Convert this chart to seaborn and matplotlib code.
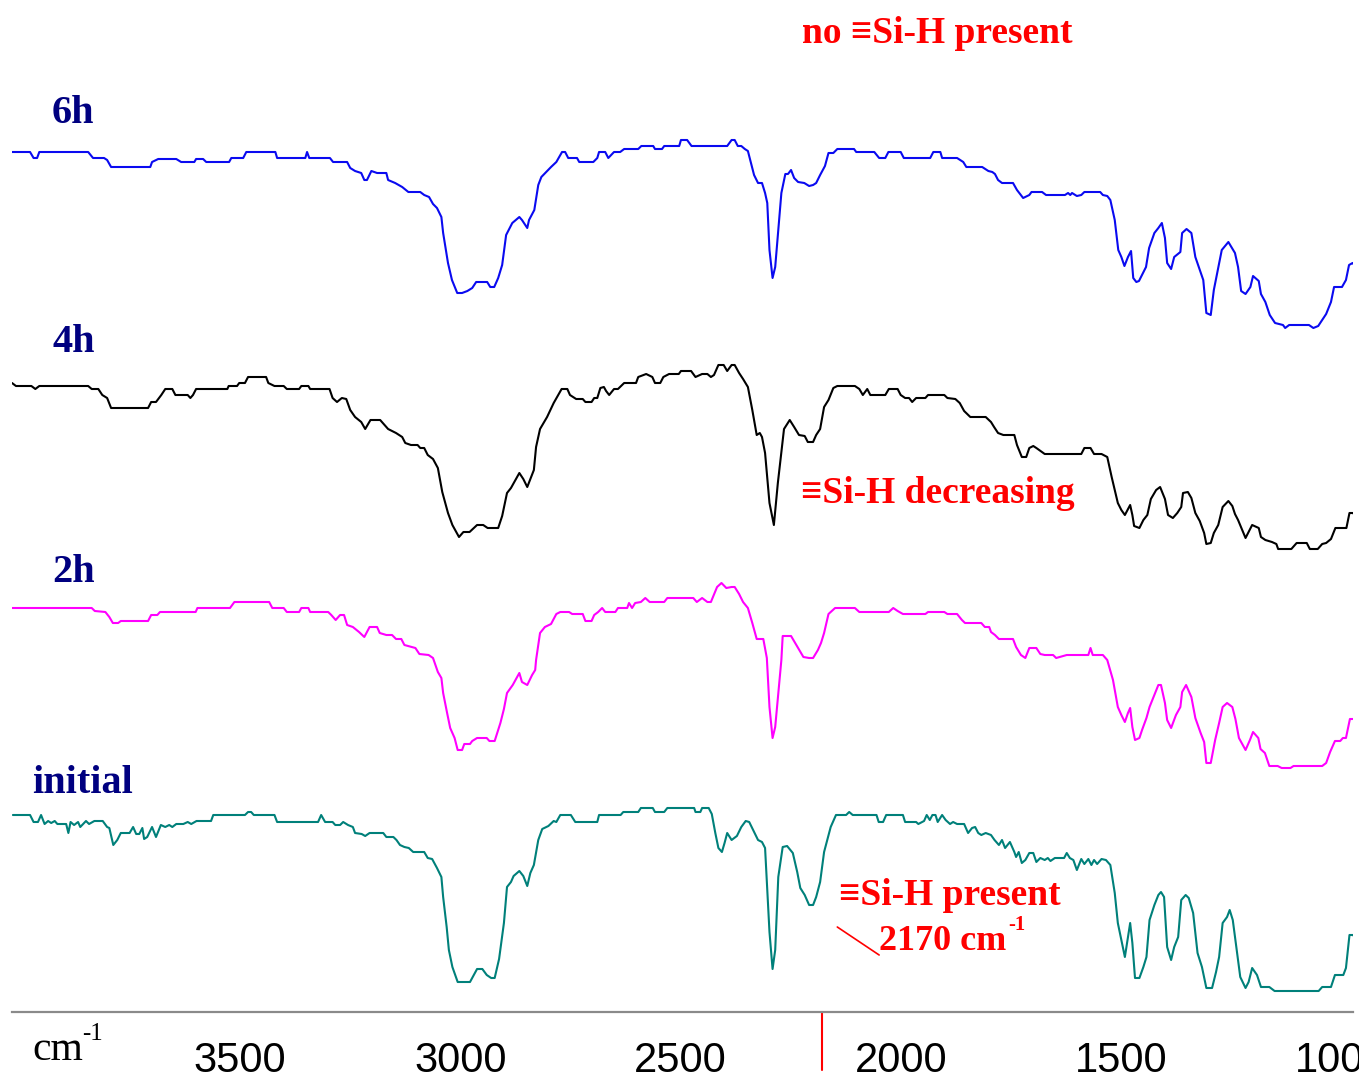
import numpy as np
import pandas as pd
import seaborn as sns
import matplotlib.pyplot as plt
from matplotlib.transforms import ScaledTranslation

# IR spectra (wavenumber in cm-1, relative transmittance in a.u.)
wn_6h = [3975, 3934, 3926, 3918, 3913, 3802, 3791, 3766, 3759, 3750, 3661, 3657, 3643, 3602, 3591,
         3561, 3557, 3541, 3534, 3482, 3477, 3450, 3443, 3377, 3373, 3309, 3305, 3300, 3253, 3246,
         3214, 3207, 3196, 3182, 3175, 3169, 3159, 3146, 3125, 3121, 3105, 3089, 3075, 3048, 3039,
         3028, 3019, 3010, 3000, 2996, 2985, 2976, 2964, 2953, 2941, 2930, 2921, 2896, 2889, 2880,
         2871, 2862, 2853, 2839, 2823, 2817, 2805, 2801, 2789, 2780, 2773, 2762, 2751, 2739, 2726,
         2719, 2712, 2692, 2687, 2655, 2646, 2642, 2628, 2621, 2608, 2594, 2585, 2553, 2546, 2519,
         2515, 2499, 2494, 2460, 2456, 2442, 2432, 2351, 2341, 2334, 2327, 2319, 2311, 2304, 2297,
         2290, 2281, 2272, 2265, 2260, 2255, 2248, 2242, 2235, 2228, 2219, 2213, 2206, 2199, 2190,
         2176, 2165, 2156, 2149, 2140, 2129, 2121, 2110, 2101, 2063, 2058, 2017, 2006, 1992, 1985,
         1957, 1950, 1890, 1883, 1867, 1863, 1829, 1815, 1808, 1772, 1758, 1749, 1743, 1736, 1727,
         1702, 1693, 1679, 1665, 1660, 1636, 1627, 1584, 1577, 1572, 1568, 1557, 1547, 1540, 1504,
         1498, 1488, 1481, 1471, 1463, 1456, 1449, 1441, 1434, 1429, 1422, 1416, 1400, 1393, 1381,
         1372, 1364, 1357, 1352, 1343, 1336, 1322, 1318, 1308, 1297, 1288, 1270, 1263, 1253, 1246,
         1236, 1228, 1213, 1198, 1191, 1184, 1174, 1163, 1157, 1144, 1139, 1129, 1119, 1107, 1089,
         1084, 1075, 1030, 1020, 1009, 1000, 991, 980, 973, 955, 946, 939, 931, 923]
t_6h = [0, 0, -6, -6, 0, 0, -6, -6, -8, -15, -15, -10, -7, -7, -10,
        -10, -7, -7, -10, -10, -6, -6, 0, 0, -6, -6, 0, -6, -6, -10,
        -10, -16, -19, -21, -28, -28, -19, -21, -21, -28, -31, -35, -40, -40, -43,
        -45, -52, -56, -65, -81, -111, -128, -141, -141, -139, -136, -130, -130, -135, -135,
        -126, -113, -83, -71, -65, -68, -76, -68, -58, -33, -25, -20, -15, -10, 0,
        0, -6, -6, -10, -10, -6, 0, 0, -6, 0, 0, 3, 3, 6, 6,
        3, 3, 6, 6, 12, 12, 6, 6, 12, 12, 6, 6, 3, 1, -11,
        -23, -31, -31, -41, -51, -98, -126, -115, -78, -41, -22, -22, -18, -26, -30,
        -31, -34, -33, -31, -23, -14, -1, -1, 3, 3, 0, 0, -6, -6, 0,
        0, -6, -6, 0, 0, -6, -6, -10, -15, -15, -19, -20, -22, -28, -31,
        -31, -38, -46, -43, -40, -40, -43, -43, -41, -43, -41, -44, -43, -40, -40,
        -43, -44, -48, -68, -98, -105, -114, -105, -99, -126, -130, -129, -115, -96, -81,
        -76, -71, -86, -111, -117, -105, -100, -81, -77, -81, -105, -128, -161, -163, -138,
        -116, -98, -90, -101, -115, -139, -142, -135, -124, -129, -142, -150, -163, -171, -173,
        -176, -173, -173, -176, -174, -168, -162, -150, -135, -135, -128, -113, -111, -115]

wn_4h = [3975, 3966, 3931, 3922, 3913, 3802, 3794, 3779, 3770, 3759, 3750, 3666, 3659, 3648, 3636,
         3627, 3611, 3604, 3576, 3570, 3564, 3557, 3486, 3483, 3464, 3459, 3446, 3439, 3398, 3393,
         3379, 3358, 3351, 3323, 3318, 3302, 3298, 3254, 3247, 3237, 3226, 3216, 3207, 3196, 3182,
         3173, 3161, 3139, 3121, 3103, 3089, 3082, 3069, 3054, 3048, 3039, 3031, 3019, 3008, 2998,
         2985, 2975, 2960, 2950, 2936, 2919, 2905, 2895, 2871, 2862, 2851, 2842, 2823, 2814, 2805,
         2790, 2785, 2776, 2760, 2745, 2727, 2714, 2708, 2694, 2679, 2673, 2659, 2653, 2646, 2639,
         2631, 2626, 2619, 2608, 2599, 2585, 2558, 2553, 2535, 2521, 2515, 2503, 2496, 2483, 2461,
         2456, 2433, 2423, 2408, 2396, 2388, 2381, 2371, 2359, 2351, 2341, 2334, 2324, 2315, 2304,
         2294, 2284, 2277, 2272, 2265, 2255, 2245, 2236, 2222, 2209, 2199, 2188, 2175, 2168, 2156,
         2149, 2140, 2131, 2121, 2110, 2101, 2061, 2051, 2043, 2033, 2026, 1992, 1984, 1964, 1957,
         1947, 1938, 1931, 1922, 1901, 1895, 1858, 1851, 1833, 1823, 1813, 1799, 1764, 1752, 1745,
         1736, 1724, 1699, 1693, 1682, 1672, 1665, 1656, 1649, 1630, 1547, 1540, 1526, 1518, 1501,
         1488, 1478, 1464, 1456, 1448, 1436, 1431, 1427, 1415, 1406, 1397, 1389, 1377, 1368, 1357,
         1350, 1339, 1329, 1320, 1316, 1305, 1297, 1288, 1278, 1268, 1263, 1253, 1246, 1236, 1226,
         1213, 1204, 1198, 1191, 1174, 1159, 1144, 1139, 1129, 1114, 1104, 1100, 1070, 1058, 1035,
         1028, 1010, 1000, 991, 980, 970, 945, 938, 931, 923]
t_4h = [3, 0, 0, -3, 0, 0, -3, -3, -9, -12, -22, -22, -16, -16, -9,
        -3, -3, -9, -9, -12, -9, -3, -3, 0, 0, 3, 3, 9, 9, 3,
        0, 0, -3, -3, 0, 0, -3, -3, -12, -16, -12, -13, -24, -31, -36,
        -43, -34, -34, -43, -47, -51, -57, -59, -59, -62, -62, -69, -73, -82, -106,
        -127, -139, -151, -146, -146, -139, -139, -142, -142, -130, -107, -102, -87, -93, -101,
        -84, -61, -43, -31, -17, -3, -3, -9, -13, -13, -16, -16, -12, -12, -2,
        -1, -5, -9, -3, -3, 3, 3, 9, 12, 9, 3, 3, 9, 12, 12,
        15, 15, 9, 12, 12, 9, 11, 21, 21, 15, 21, 21, 13, 7, -1,
        -24, -49, -47, -51, -67, -117, -139, -97, -43, -34, -41, -49, -50, -56, -56,
        -49, -43, -21, -14, -2, 0, 0, -3, -9, -3, -9, -9, -3, -3, -9,
        -12, -12, -16, -12, -12, -9, -9, -12, -13, -17, -25, -31, -31, -36, -41,
        -47, -49, -49, -59, -71, -71, -62, -60, -62, -68, -68, -62, -62, -68, -68,
        -71, -91, -117, -124, -129, -119, -129, -140, -142, -134, -129, -113, -104, -101, -113,
        -129, -132, -127, -121, -107, -106, -112, -127, -135, -147, -158, -157, -147, -139, -121,
        -115, -120, -128, -134, -152, -139, -142, -151, -154, -156, -158, -163, -163, -157, -157,
        -163, -163, -158, -157, -153, -142, -142, -127, -127, -129]

wn_2h = [3975, 3794, 3787, 3763, 3754, 3746, 3734, 3728, 3666, 3659, 3645, 3639, 3558, 3554, 3480,
         3470, 3391, 3384, 3358, 3351, 3323, 3318, 3302, 3298, 3257, 3250, 3240, 3230, 3221, 3214,
         3201, 3187, 3175, 3163, 3146, 3140, 3125, 3112, 3103, 3091, 3084, 3059, 3050, 3029, 3019,
         3008, 3000, 2996, 2987, 2980, 2970, 2963, 2953, 2948, 2935, 2930, 2919, 2897, 2891, 2879,
         2866, 2858, 2851, 2838, 2823, 2817, 2805, 2794, 2787, 2785, 2776, 2765, 2751, 2739, 2730,
         2710, 2703, 2679, 2673, 2659, 2653, 2644, 2635, 2628, 2605, 2599, 2578, 2574, 2567, 2560,
         2547, 2537, 2527, 2494, 2487, 2428, 2420, 2408, 2396, 2388, 2374, 2364, 2353, 2341, 2334,
         2324, 2315, 2304, 2294, 2284, 2269, 2261, 2255, 2248, 2242, 2235, 2228, 2225, 2206, 2190,
         2178, 2165, 2156, 2145, 2138, 2131, 2121, 2106, 2061, 2051, 1984, 1974, 1964, 1952, 1901,
         1895, 1858, 1851, 1829, 1818, 1811, 1774, 1766, 1756, 1752, 1743, 1734, 1702, 1695, 1684,
         1674, 1665, 1649, 1640, 1630, 1611, 1604, 1580, 1531, 1526, 1521, 1498, 1488, 1475, 1464,
         1456, 1448, 1441, 1436, 1431, 1425, 1415, 1409, 1399, 1392, 1381, 1372, 1366, 1357, 1352,
         1343, 1332, 1322, 1318, 1309, 1297, 1288, 1276, 1268, 1263, 1253, 1243, 1234, 1226, 1216,
         1204, 1197, 1189, 1174, 1164, 1157, 1145, 1140, 1130, 1120, 1101, 1092, 1072, 1065, 1000,
         991, 982, 971, 959, 953, 946, 937, 926, 919]
t_2h = [0, 0, -3, -4, -9, -15, -15, -13, -13, -7, -7, -4, -4, 0, 0,
        6, 6, 0, 0, -4, -4, 0, 0, -4, -4, -7, -12, -7, -7, -17,
        -19, -24, -29, -19, -19, -25, -27, -27, -31, -31, -37, -40, -46, -47, -50,
        -64, -70, -85, -105, -120, -130, -142, -142, -136, -136, -133, -130, -130, -133, -133,
        -115, -101, -85, -77, -65, -74, -77, -67, -62, -52, -25, -19, -16, -6, -4,
        -4, -6, -6, -13, -13, -7, -4, 0, -4, -4, 0, 0, 5, 0, 5,
        6, 10, 6, 6, 10, 10, 6, 10, 6, 6, 21, 25, 20, 21, 21,
        14, 6, 0, -15, -31, -31, -50, -99, -130, -119, -85, -52, -28, -28, -40,
        -49, -50, -50, -42, -35, -25, -6, 0, 0, -4, -4, 0, -3, -6, -6,
        -4, -4, -6, -6, -12, -15, -15, -19, -19, -24, -27, -31, -31, -39, -47,
        -50, -40, -40, -46, -47, -47, -50, -47, -47, -40, -47, -47, -52, -72, -99,
        -107, -114, -105, -100, -119, -132, -130, -122, -110, -99, -87, -77, -77, -95, -112,
        -120, -107, -99, -84, -77, -89, -110, -125, -134, -155, -155, -132, -115, -99, -95,
        -99, -111, -130, -142, -132, -124, -130, -141, -145, -158, -158, -160, -160, -158, -158,
        -155, -144, -133, -133, -130, -130, -111, -111, -114]

wn_init = [3973, 3934, 3926, 3916, 3909, 3901, 3893, 3886, 3878, 3872, 3852, 3847, 3842, 3834, 3825,
           3820, 3807, 3800, 3788, 3769, 3759, 3754, 3745, 3736, 3728, 3708, 3700, 3693, 3686, 3679,
           3675, 3668, 3657, 3648, 3637, 3627, 3618, 3611, 3602, 3586, 3576, 3568, 3556, 3523, 3518,
           3446, 3439, 3432, 3426, 3379, 3373, 3280, 3273, 3264, 3247, 3241, 3230, 3223, 3212, 3201,
           3196, 3181, 3173, 3163, 3132, 3125, 3109, 3102, 3094, 3084, 3074, 3064, 3039, 3031, 3021,
           3010, 3000, 2996, 2988, 2983, 2975, 2963, 2935, 2930, 2919, 2907, 2897, 2887, 2879, 2869,
           2858, 2851, 2842, 2836, 2823, 2814, 2805, 2798, 2790, 2780, 2771, 2757, 2745, 2739, 2730,
           2706, 2696, 2646, 2642, 2593, 2587, 2553, 2547, 2520, 2515, 2494, 2487, 2426, 2423, 2412,
           2408, 2393, 2386, 2378, 2371, 2363, 2357, 2351, 2341, 2329, 2319, 2309, 2301, 2292, 2281,
           2272, 2265, 2255, 2248, 2242, 2235, 2225, 2215, 2202, 2192, 2185, 2175, 2165, 2156, 2149,
           2140, 2131, 2116, 2104, 2081, 2074, 2066, 2012, 2007, 1997, 1990, 1952, 1947, 1922, 1917,
           1904, 1898, 1891, 1885, 1878, 1873, 1863, 1855, 1845, 1838, 1829, 1813, 1804, 1795, 1788,
           1781, 1774, 1764, 1752, 1744, 1734, 1727, 1720, 1709, 1699, 1695, 1689, 1682, 1674, 1665,
           1656, 1649, 1640, 1630, 1623, 1617, 1607, 1586, 1580, 1573, 1565, 1557, 1547, 1540, 1531,
           1524, 1518, 1511, 1501, 1491, 1481, 1471, 1464, 1456, 1448, 1441, 1436, 1431, 1425, 1415,
           1406, 1399, 1392, 1381, 1372, 1366, 1359, 1352, 1343, 1336, 1327, 1320, 1310, 1303, 1293,
           1283, 1273, 1263, 1250, 1241, 1234, 1226, 1216, 1210, 1203, 1196, 1186, 1174, 1167, 1159,
           1148, 1139, 1120, 1108, 1008, 1000, 980, 971, 952, 946, 938, 929, 918]
t_init = [0, 0, -7, -7, 0, -9, -6, -8, -6, -9, -9, -18, -7, -10, -7,
          -12, -6, -9, -6, -6, -12, -13, -30, -25, -18, -18, -12, -19, -19, -13,
          -24, -22, -12, -22, -10, -12, -10, -12, -9, -9, -7, -9, -6, -6, 0,
          0, 3, 3, 0, 0, -7, -7, 0, -7, -7, -10, -10, -7, -10, -12,
          -18, -19, -21, -18, -18, -22, -22, -25, -30, -32, -33, -37, -37, -43, -44,
          -53, -62, -82, -112, -135, -152, -167, -167, -163, -154, -154, -160, -163, -163, -144,
          -108, -72, -67, -61, -56, -61, -71, -58, -50, -25, -14, -11, -6, -7, 0,
          0, -7, -7, 0, 0, 3, 3, 7, 7, 3, 3, 7, 7, 3, 3,
          7, 7, 1, -18, -33, -37, -28, -18, -25, -21, -12, -6, -7, -15, -25,
          -27, -33, -117, -154, -135, -62, -32, -31, -38, -57, -73, -80, -90, -90, -82,
          -67, -37, -12, 0, 0, 3, 0, 0, -7, -7, 0, 0, -7, -7, -9,
          -6, 0, -5, 0, 0, -7, 0, -5, -9, -7, -9, -9, -18, -13, -12,
          -18, -20, -18, -20, -25, -30, -25, -33, -27, -37, -42, -37, -48, -45, -38,
          -38, -47, -43, -45, -43, -46, -43, -43, -38, -43, -45, -55, -44, -49, -44,
          -50, -45, -49, -44, -45, -50, -78, -108, -125, -142, -122, -108, -128, -163, -163,
          -152, -142, -105, -90, -80, -77, -82, -132, -145, -132, -122, -85, -80, -83, -98,
          -138, -152, -173, -173, -157, -142, -108, -102, -95, -105, -128, -162, -173, -167, -153,
          -160, -172, -172, -176, -176, -172, -172, -160, -160, -153, -120, -120, -135]

samples = ['6h', '4h', '2h', 'initial']
offsets = [860, 626, 404, 197]
colors = ['#0a0af0', '#000000', '#ff00ff', '#00807a']
xticks = [3500, 3000, 2500, 2000, 1500, 1000]
sih_mark = 2135

frames = []
for name, wn, t, off in zip(samples, [wn_6h, wn_4h, wn_2h, wn_init],
                            [t_6h, t_4h, t_2h, t_init], offsets):
    frames.append(pd.DataFrame({'wn': wn, 'T': np.array(t) + off, 'sample': name}))
df = pd.concat(frames, ignore_index=True)

sns.set_style("white")
fig = plt.figure(figsize=(13.59, 10.82), dpi=100)
ax = fig.add_axes([12 / 1359, 70 / 1082, 1341 / 1359, 1012 / 1082])

sns.lineplot(data=df, x='wn', y='T', hue='sample', hue_order=samples,
             palette=colors, estimator=None, sort=True, linewidth=1.5,
             legend=False, ax=ax)

ax.set_xlim(3975, 930)
ax.set_ylim(0, 1012)
ax.set_xlabel('')
ax.set_ylabel('')
ax.set_yticks([])
for s in ['top', 'left', 'right']:
    ax.spines[s].set_visible(False)
ax.spines['bottom'].set_color('#8a8a8a')
ax.spines['bottom'].set_linewidth(1.6)

ax.set_xticks(xticks)
ax.set_xticklabels([str(v) for v in xticks])
ax.tick_params(axis='x', direction='out', length=18, width=1.2, color='#8a8a8a',
               pad=3, labelsize=30, labelcolor='black')
offset = ScaledTranslation(19 / 100, 0, fig.dpi_scale_trans)
for lab in ax.get_xticklabels():
    lab.set_fontfamily('Liberation Sans')
    lab.set_transform(lab.get_transform() + offset)

# red mark for Si-H band
ax.plot([sih_mark, sih_mark], [0, -58], color='red', lw=1.5, clip_on=False)

serif = ['Liberation Serif', 'DejaVu Serif']
navy = '#000080'
ax.text(3884, 889, '6h', color=navy, fontsize=29, fontweight='bold', family=serif, va='baseline')
ax.text(3884, 660, '4h', color=navy, fontsize=29, fontweight='bold', family=serif, va='baseline')
ax.text(3884, 430, '2h', color=navy, fontsize=29, fontweight='bold', family=serif, va='baseline')
ax.text(3929, 219, 'initial', color=navy, fontsize=29, fontweight='bold', family=serif, va='baseline')

ax.text(2181, 969, 'no \u2261Si-H present', color='red', fontsize=27, fontweight='bold',
        family=serif, va='baseline')
ax.text(2183, 509, '\u2261Si-H decreasing', color='red', fontsize=27, fontweight='bold',
        family=serif, va='baseline')
ax.text(2097, 107, '\u2261Si-H present', color='red', fontsize=27, fontweight='bold',
        family=serif, va='baseline')
ax.text(2006, 62, '2170 cm', color='red', fontsize=26, fontweight='bold',
        family=serif, va='baseline')
ax.text(1712, 82, '-1', color='red', fontsize=15, fontweight='bold',
        family=serif, va='baseline')
ax.plot([2101, 2006], [85, 57], color='red', lw=1.2)

fig.text(32 / 1359, 1 - 1060 / 1082, 'cm', fontsize=30, family=serif, va='baseline', color='black')
fig.text(82 / 1359, 1 - 1040 / 1082, '-1', fontsize=18, family=serif, va='baseline', color='black')

fig.savefig('out.png', dpi=100)
